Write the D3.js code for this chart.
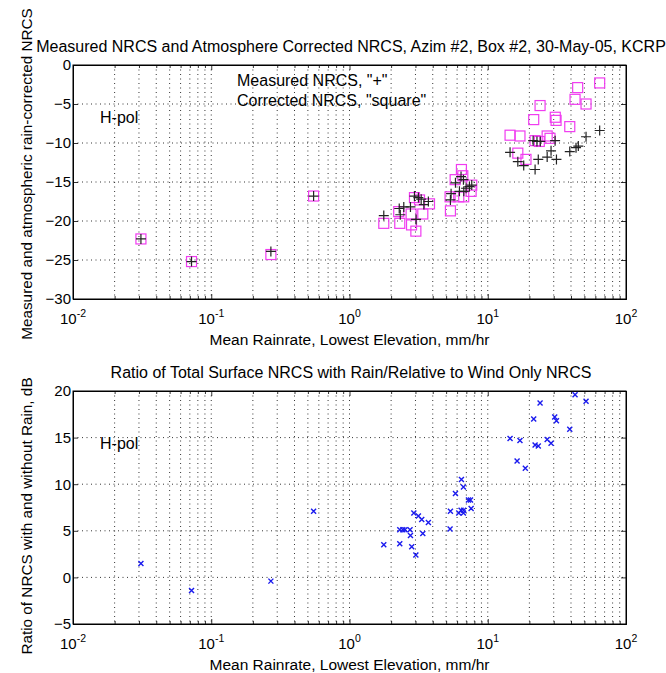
<!DOCTYPE html>
<html>
<head>
<meta charset="utf-8">
<script src="https://cdn.jsdelivr.net/npm/d3@7"></script>
<style>
  body { margin: 0; background: #fff; }
  text { font-family: "Liberation Sans", Arial, sans-serif; fill: #000; }
</style>
</head>
<body>
<div id="chart"></div>
<script>
// top panel: measured (+) and corrected (square) NRCS, dB vs rain rate mm/hr
const measX = [0.031, 0.072, 0.27, 0.55, 1.77, 2.29, 2.47, 2.33, 2.76, 2.95, 3.03, 3.15, 3.3, 3.45, 3.72,
  5.37, 5.43, 5.84, 6.41, 6.67, 6.24, 6.71, 6.97, 7.37, 7.66,
  14.5, 16.5, 18.2, 22.0, 21.3, 22.7, 24.0, 23.2, 26.9, 30.7, 28.7, 31.4, 39.2, 43.5, 45.2, 51.4, 64.5];
const measY = [-22.3, -25.2, -23.9, -16.8, -19.3, -18.4, -18.2, -19.2, -18.2, -16.8, -19.8, -17.0, -17.2, -17.9, -17.5,
  -17.3, -16.5, -15.1, -14.3, -14.7, -16.2, -16.2, -15.8, -15.6, -15.4,
  -11.2, -12.4, -12.9, -13.4, -9.7, -9.8, -9.8, -12.1, -11.8, -9.7, -11.0, -12.1, -11.1, -10.6, -10.4, -9.2, -8.4];

const corrX = [0.031, 0.072, 0.27, 0.55, 1.77, 2.31, 2.27, 2.79, 2.81, 3.02, 2.95, 3.21, 3.39, 3.79,
  5.37, 5.34, 5.81, 6.45, 6.6, 6.17, 6.7, 7.58, 7.66,
  14.5, 17.1, 16.5, 18.9, 21.5, 23.9, 22.0, 23.6, 26.9, 28.2, 30.8, 31.2, 39.2, 44.7, 42.8, 51.4, 64.5];
const corrY = [-22.3, -25.2, -24.3, -16.8, -20.3, -20.3, -18.8, -19.1, -20.5, -21.3, -17.0, -17.3, -19.1, -17.8,
  -18.7, -16.9, -14.7, -13.4, -14.2, -16.9, -16.9, -16.2, -15.4,
  -9.0, -9.1, -11.3, -12.1, -7.0, -5.2, -9.7, -9.8, -9.1, -9.4, -6.7, -7.1, -7.9, -2.9, -4.4, -5.0, -2.3];

// bottom panel: ratio of surface NRCS with/without rain, dB
const ratioX = [0.031, 0.072, 0.27, 0.55, 1.77, 2.31, 2.31, 2.43, 2.52, 2.74, 2.76, 2.82, 3.02, 2.92, 3.15, 3.33, 3.72, 3.39,
  5.34, 5.37, 5.84, 6.45, 6.67, 6.17, 6.41, 6.7, 6.67, 7.25, 7.5, 7.58,
  14.5, 17.1, 16.3, 18.7, 21.5, 23.9, 22.0, 23.2, 26.9, 28.7, 30.5, 31.4, 39.2, 42.8, 51.4];
const ratioY = [1.5, -1.4, -0.4, 7.1, 3.5, 5.1, 3.6, 5.1, 5.1, 5.1, 4.5, 3.3, 2.4, 6.9, 6.6, 6.2, 5.9, 4.7,
  5.2, 7.1, 9.0, 10.5, 9.7, 6.9, 7.2, 7.2, 6.9, 8.3, 8.3, 7.4,
  14.9, 14.7, 12.5, 11.7, 17.0, 18.7, 14.2, 14.1, 14.8, 14.4, 17.2, 16.8, 15.9, 19.6, 18.9];

const xDecades = [-2, -1, 0, 1, 2];
const topYTicks = [-30, -25, -20, -15, -10, -5, 0];
const botYTicks = [-5, 0, 5, 10, 15, 20];

const width = 666, height = 673;
const left = 73, right = 626;

const svg = d3.select("#chart").append("svg")
  .attr("width", width)
  .attr("height", height);

const x = d3.scaleLog().domain([0.01, 100]).range([left, right]);

// minor + major ticks for the log axis
const logTicks = [];
for (let e = -2; e < 2; e++) {
  for (let m = 1; m < 10; m++) logTicks.push(m * Math.pow(10, e));
}
logTicks.push(100);

function panel(top, bottom, yDomain, yTicks, title, ylabel, ylabelY) {
  const y = d3.scaleLinear().domain(yDomain).range([bottom, top]);
  const g = svg.append("g");

  // dotted grid
  g.append("g").selectAll("line")
    .data(logTicks.filter(d => d > 0.01 && d < 100))
    .join("line")
    .attr("x1", d => x(d)).attr("x2", d => x(d))
    .attr("y1", top).attr("y2", bottom)
    .attr("stroke", "#000").attr("stroke-width", 0.8)
    .attr("stroke-dasharray", "1,3.5");
  g.append("g").selectAll("line")
    .data(yTicks.slice(1, -1))
    .join("line")
    .attr("x1", left).attr("x2", right)
    .attr("y1", d => y(d)).attr("y2", d => y(d))
    .attr("stroke", "#000").attr("stroke-width", 0.8)
    .attr("stroke-dasharray", "1,3.5");

  // axes with ticks pointing inward
  const axL = d3.axisLeft(y).tickValues(yTicks).tickSize(-5).tickPadding(2).tickFormat(d3.format("d"));
  const axR = d3.axisRight(y).tickValues(yTicks).tickSize(-5).tickFormat("");
  const isMajor = d => xDecades.includes(Math.round(Math.log10(d) * 1000) / 1000);
  const axB = d3.axisBottom(x).tickValues(logTicks).tickSize(-3).tickFormat("");
  const axT = d3.axisTop(x).tickValues(logTicks).tickSize(-3).tickFormat("");

  g.append("g").attr("transform", `translate(${left},0)`).call(axL)
    .call(s => s.selectAll("text").style("font-size", "15px").style("font-family", "Liberation Sans, Arial"));
  g.append("g").attr("transform", `translate(${right},0)`).call(axR);
  g.append("g").attr("transform", `translate(0,${bottom})`).call(axB)
    .call(s => s.selectAll(".tick line").attr("y2", d => isMajor(d) ? -5 : -3));
  g.append("g").attr("transform", `translate(0,${top})`).call(axT)
    .call(s => s.selectAll(".tick line").attr("y2", d => isMajor(d) ? 5 : 3));
  g.selectAll(".domain").attr("stroke", "#000").attr("stroke-width", 1);
  g.selectAll(".tick line").attr("stroke", "#000").attr("stroke-width", 0.8);

  // box
  g.append("rect")
    .attr("x", left).attr("y", top)
    .attr("width", right - left).attr("height", bottom - top)
    .attr("fill", "none").attr("stroke", "#000").attr("stroke-width", 1);

  // power-of-ten labels
  const lbl = g.append("g").selectAll("text")
    .data(xDecades)
    .join("text")
    .attr("x", d => x(Math.pow(10, d)))
    .attr("y", bottom + 25)
    .attr("text-anchor", "middle")
    .style("font-size", "15px");
  lbl.append("tspan").text("10");
  lbl.append("tspan").attr("dy", -7).style("font-size", "10.5px").text(d => d);

  g.append("text")
    .attr("x", (left + right) / 2)
    .attr("y", bottom + 46)
    .attr("text-anchor", "middle")
    .style("font-size", "15.5px")
    .text("Mean Rainrate, Lowest Elevation, mm/hr");

  g.append("text")
    .attr("x", 351)
    .attr("y", top - 13)
    .attr("text-anchor", "middle")
    .style("font-size", "16px")
    .text(title);

  g.append("text")
    .attr("transform", `translate(32,${ylabelY}) rotate(-90)`)
    .attr("text-anchor", "middle")
    .style("font-size", "15.3px")
    .text(ylabel);

  g.append("text")
    .attr("x", 100).attr("y", top + 58)
    .style("font-size", "16px")
    .text("H-pol");

  return { g, y };
}

// top panel
const p1 = panel(65, 299, [-30, 0], topYTicks,
  "Measured NRCS and Atmosphere Corrected NRCS, Azim #2, Box #2, 30-May-05, KCRP",
  "Measured and atmospheric rain-corrected NRCS", 174);

p1.g.append("text").attr("x", 237).attr("y", 86).style("font-size", "16px")
  .text("Measured NRCS, \"+\"");
p1.g.append("text").attr("x", 237).attr("y", 106).style("font-size", "16px")
  .text("Corrected NRCS, \"square\"");

const corr = corrX.map((d, i) => [d, corrY[i]]);
const meas = measX.map((d, i) => [d, measY[i]]);

p1.g.append("g").selectAll("rect")
  .data(corr)
  .join("rect")
  .attr("x", d => x(d[0]) - 5)
  .attr("y", d => p1.y(d[1]) - 5)
  .attr("width", 10).attr("height", 10)
  .attr("fill", "none")
  .attr("stroke", "#f03cf0")
  .attr("stroke-width", 1.2);

p1.g.append("g").selectAll("path")
  .data(meas)
  .join("path")
  .attr("transform", d => `translate(${x(d[0])},${p1.y(d[1])})`)
  .attr("d", "M-5,0H5M0,-5V5")
  .attr("stroke", "#222")
  .attr("stroke-width", 1.2);

// bottom panel
const p2 = panel(391, 624, [-5, 20], botYTicks,
  "Ratio of Total Surface NRCS with Rain/Relative to Wind Only NRCS",
  "Ratio of NRCS with and without Rain, dB", 516);

const ratio = ratioX.map((d, i) => [d, ratioY[i]]);
p2.g.append("g").selectAll("path")
  .data(ratio)
  .join("path")
  .attr("transform", d => `translate(${x(d[0])},${p2.y(d[1])})`)
  .attr("d", "M-2.5,-2.5L2.5,2.5M-2.5,2.5L2.5,-2.5")
  .attr("stroke", "#1a1aee")
  .attr("stroke-width", 1.4);
</script>
</body>
</html>
